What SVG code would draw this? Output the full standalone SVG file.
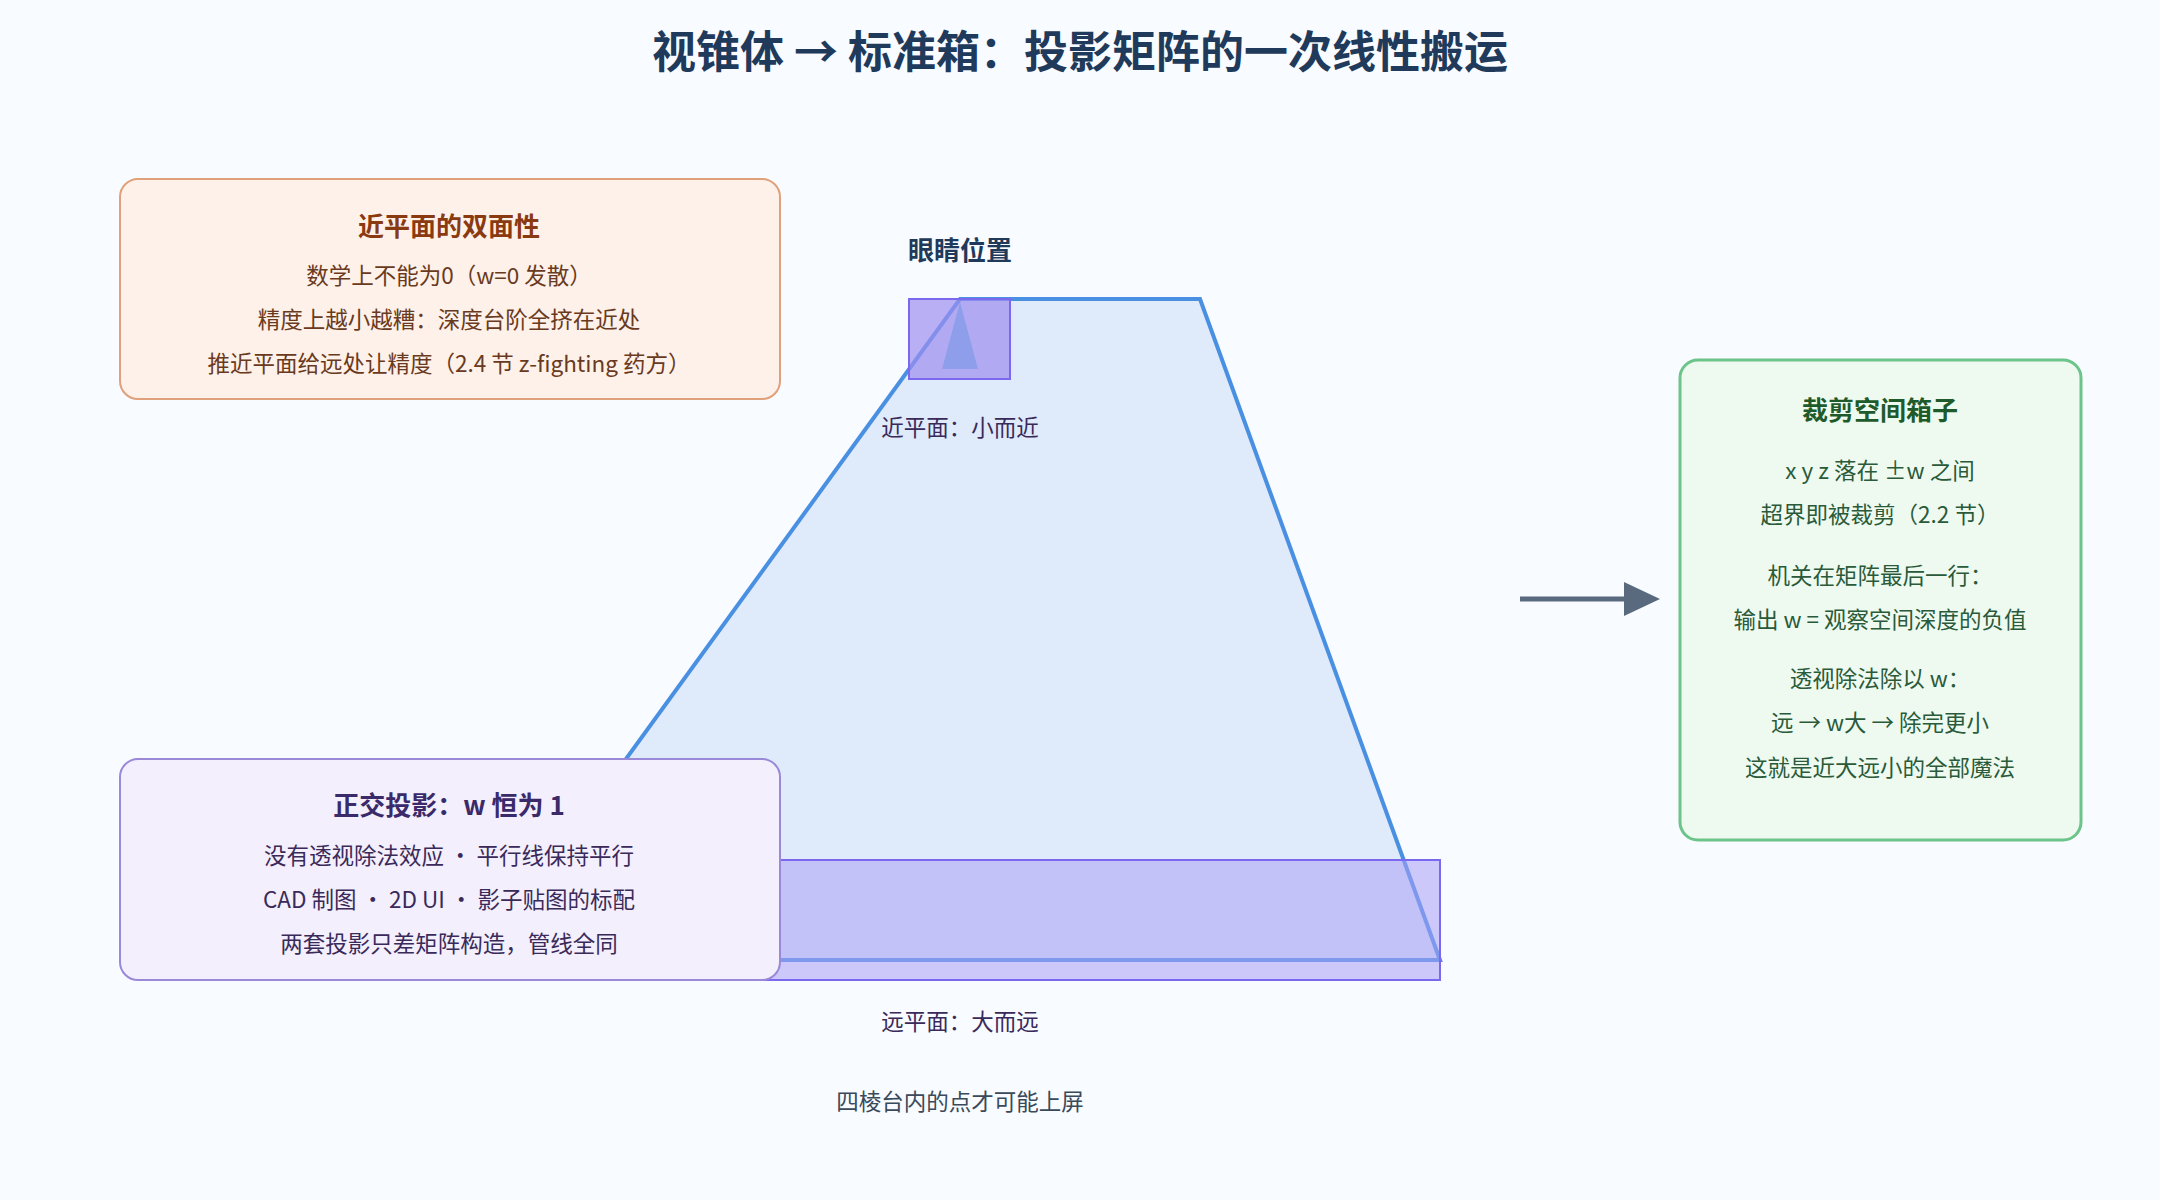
<svg xmlns="http://www.w3.org/2000/svg" width="2160" height="1200" viewBox="0 0 2160 1200">
<style>
text{font-family:"Noto Sans CJK SC","Noto Sans",sans-serif;text-anchor:middle}
.t{font-size:44px;font-weight:700;fill:#1f3a5a}
.h{font-size:26px;font-weight:700}
.b{font-size:22.5px}
</style>
<rect width="2160" height="1200" fill="#f8fbff"/>
<text class="t" x="1080" y="68">视锥体 → 标准箱：投影矩阵的一次线性搬运</text>
<g id="frustum">
<polygon points="960,299 1200,299 1440,960 480,960" fill="#dfeafa" stroke="#4a90e2" stroke-width="4"/>
</g>
<g id="far">
<rect x="480" y="860" width="960" height="120" fill="#a99ef5" fill-opacity="0.55" stroke="#7b68ee" stroke-width="2"/>
<text class="b" x="960" y="1030" fill="#3a2a5a">远平面：大而远</text>
</g>
<g id="near">
<rect x="909" y="299" width="101" height="80" fill="#9c8ff0" fill-opacity="0.7" stroke="#7b68ee" stroke-width="2"/>
<polygon points="960,302 978,369 942,369" fill="#8a9ce8" opacity="0.85"/>
<text class="h" x="960" y="260" fill="#1f3a5a">眼睛位置</text>
<text class="b" x="960" y="436" fill="#3a2a5a">近平面：小而近</text>
</g>
<text class="b" x="960" y="1110" fill="#3a4a5a">四棱台内的点才可能上屏</text>
<g id="n1">
<rect x="120" y="179" width="660" height="220" rx="18" fill="#fdf1ea" stroke="#e0a07a" stroke-width="2"/>
<text class="h" x="449" y="236" fill="#8a3a10">近平面的双面性</text>
<text class="b" x="449" y="284" fill="#6a3a20">数学上不能为0（w=0 发散）</text>
<text class="b" x="449" y="328" fill="#6a3a20">精度上越小越糟：深度台阶全挤在近处</text>
<text class="b" x="449" y="372" fill="#6a3a20">推近平面给远处让精度（2.4 节 z-fighting 药方）</text>
</g>
<g id="n2">
<rect x="120" y="759" width="660" height="221" rx="18" fill="#f3effc" stroke="#9a88d8" stroke-width="2"/>
<text class="h" x="449" y="815" fill="#3a2a6a">正交投影：w 恒为 1</text>
<text class="b" x="449" y="864" fill="#3a2a5a">没有透视除法效应 · 平行线保持平行</text>
<text class="b" x="449" y="908" fill="#3a2a5a">CAD 制图 · 2D UI · 影子贴图的标配</text>
<text class="b" x="449" y="952" fill="#3a2a5a">两套投影只差矩阵构造，管线全同</text>
</g>
<g id="n3">
<rect x="1680" y="360" width="401" height="480" rx="18" fill="#eefaf0" stroke="#6cc48a" stroke-width="3"/>
<text class="h" x="1880" y="420" fill="#1f5a2a">裁剪空间箱子</text>
<text class="b" x="1880" y="479" fill="#2a5a3a">x y z 落在 ±w 之间</text>
<text class="b" x="1880" y="523" fill="#2a5a3a">超界即被裁剪（2.2 节）</text>
<text class="b" x="1880" y="584" fill="#2a5a3a">机关在矩阵最后一行：</text>
<text class="b" x="1880" y="628" fill="#2a5a3a">输出 w = 观察空间深度的负值</text>
<text class="b" x="1880" y="687" fill="#2a5a3a">透视除法除以 w：</text>
<text class="b" x="1880" y="731" fill="#2a5a3a">远 → w大 → 除完更小</text>
<text class="b" x="1880" y="776" fill="#2a5a3a">这就是近大远小的全部魔法</text>
</g>
<g id="connectors">
<line x1="1520" y1="599" x2="1628" y2="599" stroke="#5a6a7e" stroke-width="5"/>
<polygon points="1624,582 1660,599 1624,616" fill="#5a6a7e"/>
</g>
</svg>
